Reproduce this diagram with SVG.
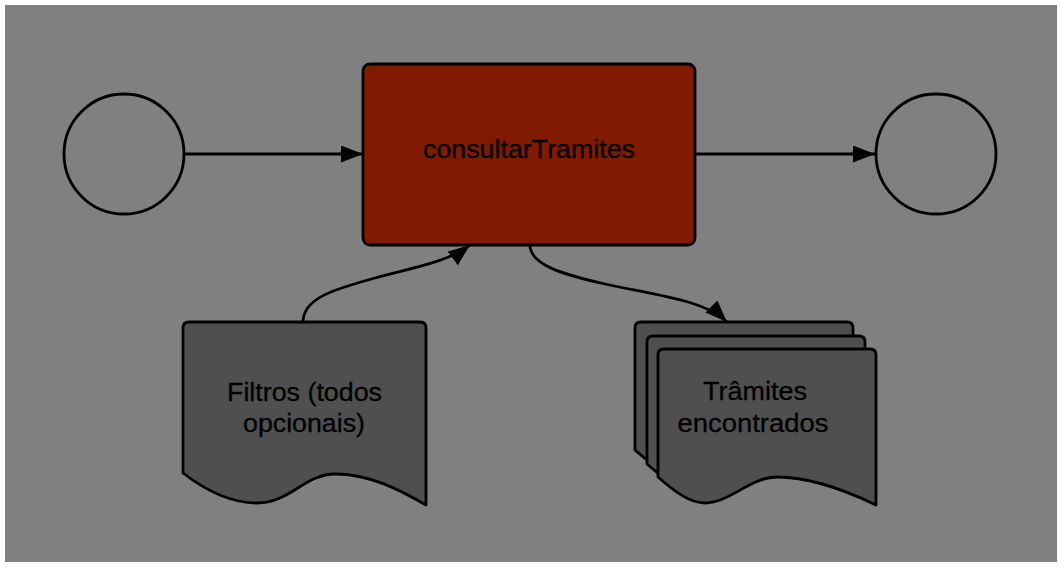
<svg xmlns="http://www.w3.org/2000/svg" width="1064" height="568" viewBox="0 0 1064 568">
  <style>
    .ln { fill: none; stroke: #000; stroke-width: 2.8; }
    .ev { fill: none; stroke: #000; stroke-width: 2.8; }
    .doc { fill: #4f4f4f; stroke: #000; stroke-width: 2.8; stroke-linejoin: round; }
    .task { fill: #801a00; stroke: #000; stroke-width: 2.8; }
    .lbl { font-family: "Liberation Sans", Arial, Helvetica, sans-serif; font-size: 26px; fill: #000; text-anchor: middle; stroke: #000; stroke-width: 0.3; }
  </style>
  <defs>
    <marker id="arr" markerUnits="userSpaceOnUse" markerWidth="24" markerHeight="18" refX="22" refY="8.5" orient="auto">
      <path d="M0,0 L22,8.5 L0,17 Z" fill="#000"/>
    </marker>
    <path id="tdoc" d="M658,355 Q658,349 664,349 H870 Q876,349 876,355 V505 C845,490 810,477 777,477 C750,477 730,503 705,503 C690,503 675,492 658,477 Z"/>
  </defs>
  <rect x="0" y="0" width="1064" height="568" fill="#ffffff"/>
  <rect x="5" y="5" width="1052" height="557" fill="#808080"/>

  <g id="connectors">
    <line class="ln" x1="185" y1="154" x2="363" y2="154" marker-end="url(#arr)"/>
    <line class="ln" x1="695" y1="154" x2="875" y2="154" marker-end="url(#arr)"/>
    <path class="ln" d="M303,322 C303,298 335,289 375,278 C415,267 448,262 470,245" marker-end="url(#arr)"/>
    <path class="ln" d="M530,245 C530,264 560,274 605,284 C655,295 705,300 727,322" marker-end="url(#arr)"/>
  </g>

  <g id="start">
    <circle class="ev" cx="124" cy="154" r="60"/>
  </g>

  <g id="end">
    <circle class="ev" cx="936" cy="154" r="60"/>
  </g>

  <g id="consultarTramites">
    <rect class="task" x="363" y="64" width="332" height="181" rx="7" ry="7"/>
    <text class="lbl" x="529" y="158" textLength="212" lengthAdjust="spacingAndGlyphs">consultarTramites</text>
  </g>

  <g id="filtros">
    <path class="doc" d="M183,328 Q183,322 189,322 H420 Q426,322 426,328 V505 C400,490 370,474 335,474 C305,474 290,503 257,503 C230,503 205,490 183,473 Z"/>
    <text class="lbl" x="304.5" y="401" textLength="155" lengthAdjust="spacingAndGlyphs">Filtros (todos</text>
    <text class="lbl" x="304" y="432" textLength="122" lengthAdjust="spacingAndGlyphs">opcionais)</text>
  </g>

  <g id="tramites">
    <use href="#tdoc" class="doc" transform="translate(-23,-27)"/>
    <use href="#tdoc" class="doc" transform="translate(-11,-13)"/>
    <use href="#tdoc" class="doc"/>
    <text class="lbl" x="755" y="400" textLength="104" lengthAdjust="spacingAndGlyphs">Trâmites</text>
    <text class="lbl" x="753" y="432" textLength="151" lengthAdjust="spacingAndGlyphs">encontrados</text>
  </g>
</svg>
